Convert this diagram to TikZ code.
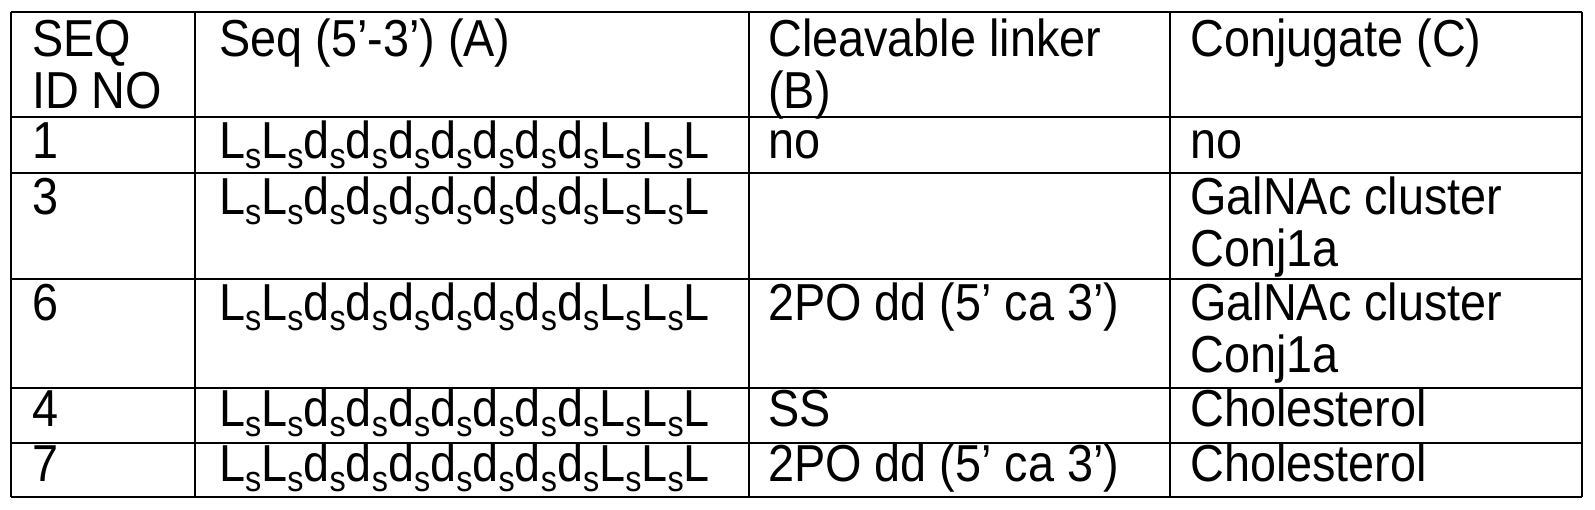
\documentclass[tikz,border=0pt]{standalone}
\usepackage{fontspec}
\setmainfont{Liberation Sans}
\newcommand{\ssub}{\raisebox{-0.2em}{\fontsize{36}{36}\selectfont s}}
\newcommand{\seqA}{L\ssub L\ssub d\ssub d\ssub d\ssub d\ssub d\ssub d\ssub d\ssub L\ssub L\ssub L}
\newcommand{\nar}[1]{\scalebox{0.9}[1]{#1}}
\begin{document}
\begin{tikzpicture}[x=1pt,y=-1pt,
  cell/.style={anchor=base west,inner sep=0pt,font=\fontsize{52}{52}\selectfont},
  rule/.style={line width=2.8pt}]
\useasboundingbox (0,0) rectangle (1595,509);
\foreach \x in {11,195,749,1170,1582} {\draw[rule] (\x,12) -- (\x,497);}
\foreach \y in {12,117,173,279,388,443,497} {\draw[rule] (11,\y) -- (1582,\y);}
% header
\node[cell] (h1) at (32,56) {\nar{SEQ}};
\node[cell] (h1b) at (32,108) {\nar{ID NO}};
\node[cell] (h2) at (219,56) {\nar{Seq (5’-3’) (A)}};
\node[cell] (h3) at (768,56) {\nar{Cleavable linker}};
\node[cell] (h3b) at (768,108) {\nar{(B)}};
\node[cell] (h4) at (1190,56) {\nar{Conjugate (C)}};
% rows
\node[cell] (r1a) at (32,158) {\nar{1}};
\node[cell] (r1b) at (219,158) {\nar{\seqA}};
\node[cell] (r1c) at (768,158) {\nar{no}};
\node[cell] (r1d) at (1190,158) {\nar{no}};
\node[cell] (r2a) at (32,214) {\nar{3}};
\node[cell] (r2b) at (219,214) {\nar{\seqA}};
\node[cell] (r2d) at (1190,214) {\nar{GalNAc cluster}};
\node[cell] (r2e) at (1190,266) {\nar{Conj1a}};
\node[cell] (r3a) at (32,320) {\nar{6}};
\node[cell] (r3b) at (219,320) {\nar{\seqA}};
\node[cell] (r3c) at (768,320) {\nar{2PO dd (5’ ca 3’)}};
\node[cell] (r3d) at (1190,320) {\nar{GalNAc cluster}};
\node[cell] (r3e) at (1190,372) {\nar{Conj1a}};
\node[cell] (r4a) at (32,426) {\nar{4}};
\node[cell] (r4b) at (219,426) {\nar{\seqA}};
\node[cell] (r4c) at (768,426) {\nar{SS}};
\node[cell] (r4d) at (1190,426) {\nar{Cholesterol}};
\node[cell] (r5a) at (32,481) {\nar{7}};
\node[cell] (r5b) at (219,481) {\nar{\seqA}};
\node[cell] (r5c) at (768,481) {\nar{2PO dd (5’ ca 3’)}};
\node[cell] (r5d) at (1190,481) {\nar{Cholesterol}};
\end{tikzpicture}
\end{document}
